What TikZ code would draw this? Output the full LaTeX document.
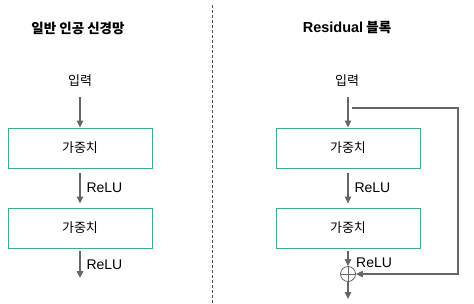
\documentclass[tikz,border=0pt]{standalone}
\usepackage{fontspec}
\setmainfont{Noto Sans CJK KR}
\newfontfamily\latinfont{Liberation Sans}
\usetikzlibrary{arrows.meta}
\definecolor{boxgreen}{HTML}{3DAF82}
\definecolor{arrgray}{HTML}{666666}
\tikzset{
  wbox/.style={draw=boxgreen, line width=1pt, minimum width=144pt, minimum height=40pt, inner sep=0pt, font=\fontsize{13}{15}\selectfont},
  flow/.style={draw=arrgray, line width=1.1pt, -{Triangle[length=7pt,width=6.5pt]}},
  lbl/.style={font=\fontsize{13}{15}\selectfont, inner sep=0pt},
  relu/.style={font=\latinfont\fontsize{14}{16}\selectfont, inner sep=0pt},
  ttl/.style={font=\fontsize{13.5}{16}\selectfont\bfseries, inner sep=0pt},
}
\begin{document}
\begin{tikzpicture}[x=1pt,y=-1pt]
\useasboundingbox (0,0) rectangle (474,303);
% divider
\draw[dashed, line width=0.8pt, black!70, dash pattern=on 3pt off 2pt] (212,5) -- (212,303);
% titles
\node[ttl] (t1) at (78,28) {일반 인공 신경망};
\node[ttl] (t2) at (347,28) {{\latinfont\fontsize{14.5}{16}\selectfont\bfseries Residual} 블록};
% left column
\node[lbl] (in1) at (80,81) {입력};
\node[wbox] (a1) at (80,148) {가중치};
\node[wbox] (a2) at (80,228) {가중치};
\coordinate (a3) at (80,278);
\draw[flow] (80,97) -- (a1.north);
\draw[flow] ([yshift=-4pt]a1.south) -- node[relu, right=6pt] (r1) {ReLU} ([yshift=4pt]a2.north);
\draw[flow] ([yshift=-2pt]a2.south) -- node[relu, right=6pt] (r2) {ReLU} (a3);
% right column
\node[lbl] (in2) at (347,81) {입력};
\node[wbox] (b1) at (348,148) {가중치};
\node[wbox] (b2) at (348,228) {가중치};
\node[draw=arrgray, circle, line width=0.8pt, minimum size=15pt, inner sep=0pt] (plus) at (348,274) {};
\draw[arrgray, line width=0.6pt] (plus.north) -- (plus.south) (plus.west) -- (plus.east);
\coordinate (b3) at (348,299);
\coordinate (bt) at (348,97);
\draw[flow] (bt) -- (b1.north);
\draw[flow] ([yshift=-4pt]b1.south) -- node[relu, right=6pt] (r3) {ReLU} ([yshift=4pt]b2.north);
\draw[flow] ([yshift=-2pt]b2.south) -- (plus.north);
\node[relu, anchor=west] (r4) at (356,263) {ReLU};
\draw[flow] (plus.south) -- (b3);
\coordinate (s1) at (352,108);
\coordinate (s2) at (458,108);
\coordinate (s3) at (458,274);
\draw[flow] (s1) -- (s2) -- (s3) -- (plus.east);
\end{tikzpicture}
\end{document}
